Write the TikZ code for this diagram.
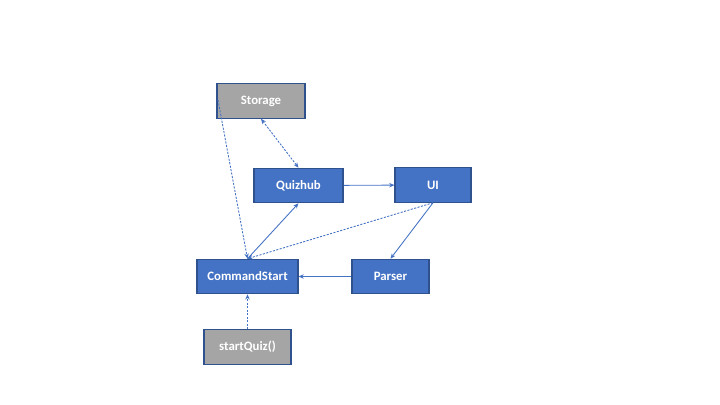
\documentclass[tikz,border=0pt]{standalone}
\usepackage{fontspec}
\setmainfont{Carlito}
\usepackage{tikz}
\usetikzlibrary{arrows.meta}

\definecolor{boxblue}{HTML}{4472C4}
\definecolor{boxline}{HTML}{2F528F}
\definecolor{boxgrey}{HTML}{A5A5A5}

\begin{document}
\begin{tikzpicture}[x=0.02cm, y=-0.02cm,
  box/.style={draw=boxline, line width=0.6pt, text=white, minimum height=0.69cm,
    inner sep=0pt, font=\fontsize{7.3}{9}\selectfont\bfseries},
  bluebox/.style={box, fill=boxblue},
  greybox/.style={box, fill=boxgrey},
  flow/.style={draw=boxblue, line width=0.5pt, -{Stealth[length=3pt, width=2.5pt]}},
  dep/.style={flow, dash pattern=on 1.2pt off 0.8pt}]
\useasboundingbox (0,0) rectangle (720,405);
\node[greybox, minimum width=1.76cm] (storage) at (261,101) {Storage};
\node[bluebox, minimum width=1.78cm] (quizhub) at (298.5,185.5) {Quizhub};
\node[bluebox, minimum width=1.52cm] (ui) at (433,185) {UI};
\node[bluebox, minimum width=2.02cm] (cmdstart) at (247.5,276.5) {CommandStart};
\node[bluebox, minimum width=1.54cm] (parser) at (390.5,276.5) {Parser};
\node[greybox, minimum width=1.74cm] (startquiz) at (247.5,347) {startQuiz()};
\coordinate (storeout) at (218,100);
\draw[dep, {Stealth[length=3pt, width=2.5pt]}-{Stealth[length=3pt, width=2.5pt]}] (storage.south) -- (quizhub.north);
\draw[dep] (storeout) -- (cmdstart.north);
\draw[flow] (quizhub) -- (ui);
\draw[flow] (cmdstart.north) -- (quizhub.south);
\draw[dep] (ui.south) -- (cmdstart.north);
\draw[flow] (ui.south) -- (parser.north);
\draw[flow] (parser) -- (cmdstart);
\draw[dep] (startquiz) -- (cmdstart);
\end{tikzpicture}
\end{document}
